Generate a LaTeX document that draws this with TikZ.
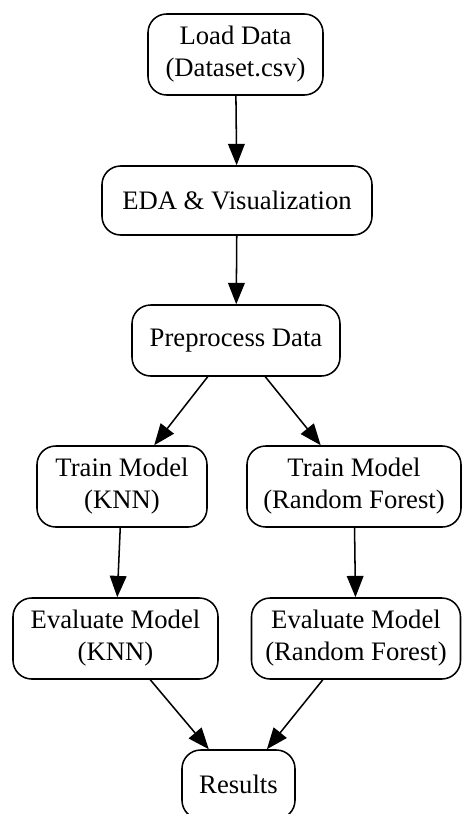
\documentclass[tikz,border=0pt]{standalone}
\usepackage{fontspec}
\setmainfont{Liberation Serif}
\usetikzlibrary{arrows.meta}

\begin{document}
\begin{tikzpicture}[x=0.75pt,y=-0.75pt,
		box/.style={draw=black, line width=1.15pt, rounded corners=14pt, align=center,
			inner sep=0pt, font=\fontsize{20}{24}\selectfont},
		flow/.style={line width=1.15pt, -{Triangle[length=16pt,width=12.5pt]}}]
		\useasboundingbox (0,0) rectangle (462,814);
		\node [box, minimum width=131.25pt, minimum height=60.75pt] (load) at (235.5,54.5) {Load Data\\(Dataset.csv)};
		\node [box, minimum width=202.5pt, minimum height=51.75pt] (eda) at (237,200.5) {EDA \& Visualization};
		\node [box, minimum width=156pt, minimum height=53.25pt] (prep) at (236,340.5) {Preprocess Data};
		\node [box, minimum width=127.5pt, minimum height=60.75pt] (trainknn) at (122,486.5) {Train Model\\(KNN)};
		\node [box, minimum width=160.5pt, minimum height=60.75pt] (trainrf) at (354,486.5) {Train Model\\(Random Forest)};
		\node [box, minimum width=153.75pt, minimum height=60.75pt] (evalknn) at (115.5,638.5) {Evaluate Model\\(KNN)};
		\node [box, minimum width=156.75pt, minimum height=60.75pt] (evalrf) at (356,638.5) {Evaluate Model\\(Random Forest)};
		\node [box, minimum width=84.75pt, minimum height=51.75pt] (results) at (238.5,784.5) {Results};
		\draw [flow] (load) -- (eda);
		\draw [flow] (eda) -- (prep);
		\draw [flow] (prep) -- (trainknn);
		\draw [flow] (prep) -- (trainrf);
		\draw [flow] (trainknn) -- (evalknn);
		\draw [flow] (trainrf) -- (evalrf);
		\draw [flow] (evalknn) -- (results);
		\draw [flow] (evalrf) -- (results);
	\end{tikzpicture}
\end{document}
